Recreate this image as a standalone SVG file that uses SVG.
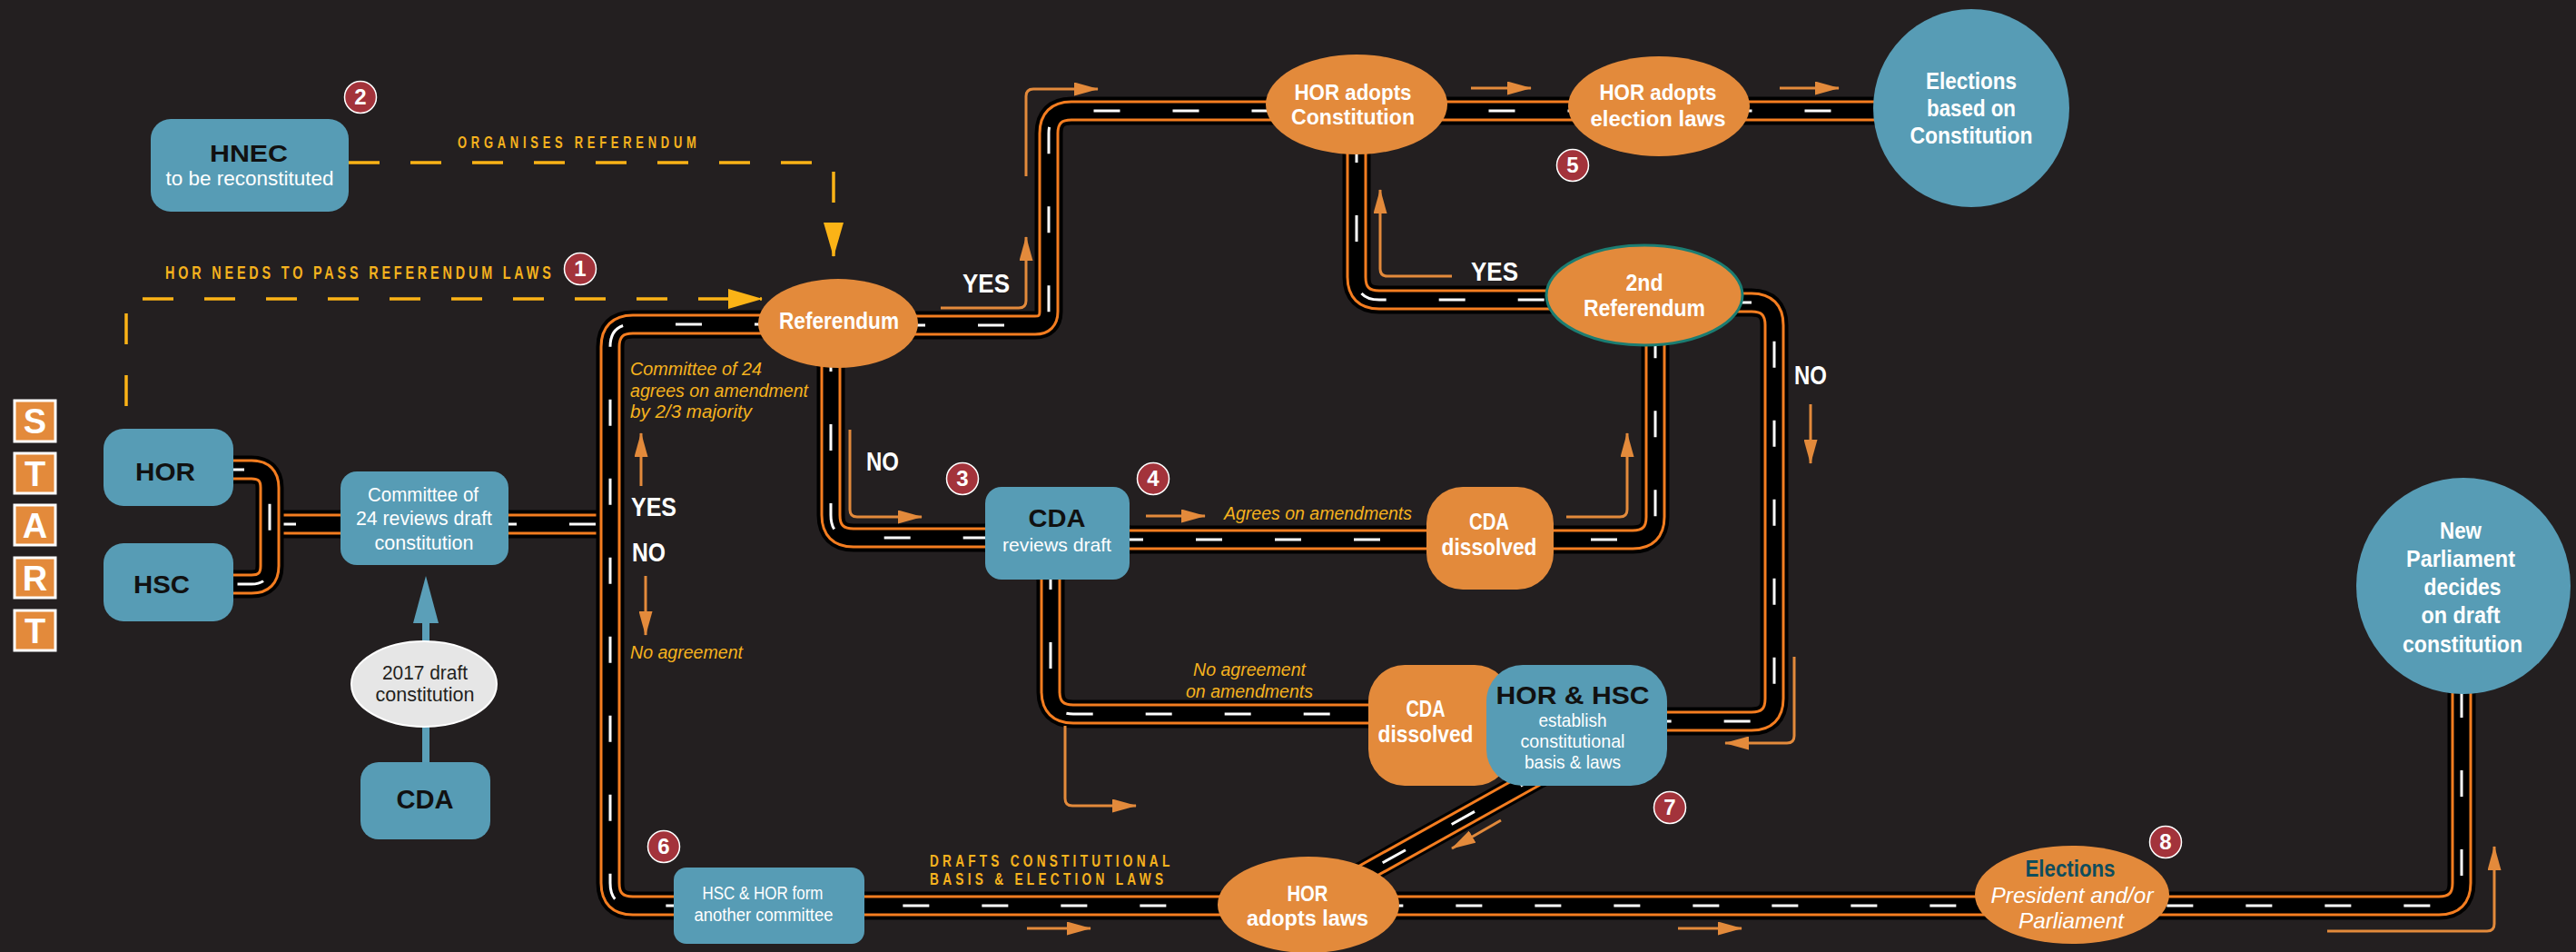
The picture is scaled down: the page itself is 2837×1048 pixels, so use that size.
<svg xmlns="http://www.w3.org/2000/svg" xmlns:xlink="http://www.w3.org/1999/xlink" width="2837" height="1048" viewBox="0 0 2837 1048">
<style>
text{font-family:'Liberation Sans Narrow','Liberation Sans',Arial,sans-serif}
.blue{fill:#579cb5}
.org{fill:#e38a3b}
.r1{fill:none;stroke:#000;stroke-width:31}
.r2{fill:none;stroke:#f47d20;stroke-width:23}
.r3{fill:none;stroke:#000;stroke-width:17}
.r4{fill:none;stroke:#fff;stroke-width:3;stroke-dasharray:29 58}
.d1{fill:none;stroke:#000;stroke-width:28}
.d2{fill:none;stroke:#f47d20;stroke-width:22}
.d3{fill:none;stroke:#000;stroke-width:16}
.ar{fill:none;stroke:#e38a3b;stroke-width:3;marker-end:url(#ah)}
.yd{fill:none;stroke:#fbb316;stroke-width:3.5;stroke-dasharray:34 34;marker-end:url(#ay)}
.tb{font-weight:bold;fill:#fff}
.tk{font-weight:bold;fill:#111}
.tw{fill:#fff}
.ty{font-style:italic;fill:#f5b21e}
.tc{font-weight:bold;fill:#f5b21e}
.bd circle{fill:#a3333b;stroke:#fff;stroke-width:1.5}
.bd text{font-weight:bold;fill:#fff;font-size:24px;text-anchor:middle}
.st rect{fill:#e38a3b;stroke:#fff;stroke-width:3}
.st text{font-weight:bold;fill:#fff;font-size:38px;text-anchor:middle}
</style>
<defs>
<marker id="ah" viewBox="0 0 27 15" refX="26" refY="7.5" markerWidth="27" markerHeight="15" markerUnits="userSpaceOnUse" orient="auto"><path d="M0,0 L27,7.5 L0,15 z" fill="#e38a3b"/></marker>
<marker id="ay" viewBox="0 0 38 22" refX="37" refY="11" markerWidth="38" markerHeight="22" markerUnits="userSpaceOnUse" orient="auto"><path d="M0,0 L38,11 L0,22 z" fill="#fbb316"/></marker>
<path id="p1" d="M240,517 H277 Q297,517 297,537 V623 Q297,643 277,643 H240"/>
<path id="p2" d="M297,577 H400"/>
<path id="p2b" d="M540,577 H672"/>
<path id="p3" d="M860,357 H697 Q672,357 672,382 V972 Q672,997 697,997 H2686 Q2711,997 2711,972 V740"/>
<path id="p4" d="M990,358 H1140 Q1155,358 1155,343 V147 Q1155,122 1180,122 H2100"/>
<path id="p5" d="M915,380 V567 Q915,592 940,592 H1100"/>
<path id="p6" d="M1230,594 H1798 Q1823,594 1823,569 V360"/>
<path id="p7" d="M1494,150 V305 Q1494,330 1519,330 H1720"/>
<path id="p8" d="M1900,333 H1929 Q1954,333 1954,358 V769 Q1954,794 1929,794 H1820"/>
<path id="p9" d="M1157,620 V761 Q1157,786 1182,786 H1530"/>
<path id="p10" d="M1700,851 L1490,968"/>
</defs>
<rect width="2837" height="1048" fill="#231f20"/>

<g id="connectors">
<g id="roads">
<use xlink:href="#p10" class="d1"/><use xlink:href="#p10" class="d2"/><use xlink:href="#p10" class="d3"/><use xlink:href="#p10" class="r4"/>
<use xlink:href="#p2" class="r1"/><use xlink:href="#p2" class="r2"/><use xlink:href="#p2" class="r3"/><use xlink:href="#p2" class="r4"/>
<use xlink:href="#p1" class="r1"/><use xlink:href="#p1" class="r2"/><use xlink:href="#p1" class="r3"/><use xlink:href="#p1" class="r4"/>
<use xlink:href="#p2b" class="r1"/><use xlink:href="#p2b" class="r2"/><use xlink:href="#p2b" class="r3"/><use xlink:href="#p2b" class="r4"/>
<use xlink:href="#p3" class="r1"/><use xlink:href="#p3" class="r2"/><use xlink:href="#p3" class="r3"/><use xlink:href="#p3" class="r4"/>
<use xlink:href="#p4" class="r1"/><use xlink:href="#p4" class="r2"/><use xlink:href="#p4" class="r3"/><use xlink:href="#p4" class="r4"/>
<use xlink:href="#p5" class="r1"/><use xlink:href="#p5" class="r2"/><use xlink:href="#p5" class="r3"/><use xlink:href="#p5" class="r4"/>
<use xlink:href="#p6" class="r1"/><use xlink:href="#p6" class="r2"/><use xlink:href="#p6" class="r3"/><use xlink:href="#p6" class="r4"/>
<use xlink:href="#p7" class="r1"/><use xlink:href="#p7" class="r2"/><use xlink:href="#p7" class="r3"/><use xlink:href="#p7" class="r4"/>
<use xlink:href="#p8" class="r1"/><use xlink:href="#p8" class="r2"/><use xlink:href="#p8" class="r3"/><use xlink:href="#p8" class="r4"/>
<use xlink:href="#p9" class="r1"/><use xlink:href="#p9" class="r2"/><use xlink:href="#p9" class="r3"/><use xlink:href="#p9" class="r4"/>
</g>
<g id="arrows">
<path class="ar" d="M706,535 V477"/>
<path class="ar" d="M711,634 V699"/>
<path class="ar" d="M936,473 V561 Q936,569 944,569 H1015"/>
<path class="ar" d="M1262,568 H1327"/>
<path class="ar" d="M1725,569 H1784 Q1792,569 1792,561 V477"/>
<path class="ar" d="M1036,339 H1122 Q1130,339 1130,331 V261"/>
<path class="ar" d="M1130,194 V106 Q1130,98 1138,98 H1209"/>
<path class="ar" d="M1620,97 H1686"/>
<path class="ar" d="M1960,97 H2025"/>
<path class="ar" d="M1599,304 H1528 Q1520,304 1520,296 V209"/>
<path class="ar" d="M1994,445 V510"/>
<path class="ar" d="M1976,723 V810 Q1976,818 1968,818 H1900"/>
<path class="ar" d="M1173,799 V879 Q1173,887 1181,887 H1251"/>
<path class="ar" d="M1653,903 L1599,934"/>
<path class="ar" d="M1131,1022 H1201"/>
<path class="ar" d="M1848,1022 H1918"/>
<path class="ar" d="M2563,1025 H2739 Q2747,1025 2747,1017 V932"/>
<path class="yd" d="M384,179 H918 V282"/>
<path class="yd" d="M139,447 V329 H839"/>
<line x1="469" y1="839" x2="469" y2="680" stroke="#5b9fb8" stroke-width="8"/>
<polygon points="455,686 483,686 469,634" fill="#5b9fb8"/>
</g>
<g id="connector-labels">
<text class="tc" transform="translate(504,163) scale(0.72,1)" font-size="18" textLength="365" lengthAdjust="spacing">ORGANISES REFERENDUM</text>
<text class="tc" transform="translate(182,307) scale(0.72,1)" font-size="20" textLength="590" lengthAdjust="spacing">HOR NEEDS TO PASS REFERENDUM LAWS</text>
<text class="ty" x="694" y="413" font-size="20" textLength="145" lengthAdjust="spacingAndGlyphs">Committee of 24</text>
<text class="ty" x="694" y="437" font-size="20" textLength="196" lengthAdjust="spacingAndGlyphs">agrees on amendment</text>
<text class="ty" x="694" y="460" font-size="20" textLength="134" lengthAdjust="spacingAndGlyphs">by 2/3 majority</text>
<text class="tb" x="695" y="568" font-size="30" textLength="50" lengthAdjust="spacingAndGlyphs">YES</text>
<text class="tb" x="696" y="618" font-size="30" textLength="37" lengthAdjust="spacingAndGlyphs">NO</text>
<text class="ty" x="694" y="725" font-size="20" textLength="124" lengthAdjust="spacingAndGlyphs">No agreement</text>
<text class="tb" x="1060" y="322" font-size="30" textLength="52" lengthAdjust="spacingAndGlyphs">YES</text>
<text class="tb" x="1620" y="309" font-size="30" textLength="52" lengthAdjust="spacingAndGlyphs">YES</text>
<text class="tb" x="954" y="518" font-size="30" textLength="36" lengthAdjust="spacingAndGlyphs">NO</text>
<text class="tb" x="1976" y="423" font-size="30" textLength="36" lengthAdjust="spacingAndGlyphs">NO</text>
<text class="ty" x="1348" y="572" font-size="20" textLength="207" lengthAdjust="spacingAndGlyphs">Agrees on amendments</text>
<text class="ty" x="1376" y="744" font-size="20" text-anchor="middle" textLength="124" lengthAdjust="spacingAndGlyphs">No agreement</text>
<text class="ty" x="1376" y="768" font-size="20" text-anchor="middle" textLength="140" lengthAdjust="spacingAndGlyphs">on amendments</text>
<text class="tc" transform="translate(1024,954) scale(0.72,1)" font-size="19" textLength="367" lengthAdjust="spacing">DRAFTS CONSTITUTIONAL</text>
<text class="tc" transform="translate(1024,974) scale(0.72,1)" font-size="19" textLength="357" lengthAdjust="spacing">BASIS &amp; ELECTION LAWS</text>
</g>
</g>

<g id="start" class="st">
<rect x="16" y="441" width="45" height="45"/><text x="38.5" y="477">S</text>
<rect x="16" y="499" width="45" height="44"/><text x="38.5" y="535">T</text>
<rect x="16" y="556" width="45" height="44"/><text x="38.5" y="592">A</text>
<rect x="16" y="614" width="45" height="44"/><text x="38.5" y="650">R</text>
<rect x="16" y="672" width="45" height="44"/><text x="38.5" y="708">T</text>
</g>

<g id="hnec">
<rect class="blue" x="166" y="131" width="218" height="102" rx="22"/>
<text class="tk" x="274" y="178" font-size="26" text-anchor="middle" textLength="86" lengthAdjust="spacingAndGlyphs">HNEC</text>
<text class="tw" x="275" y="204" font-size="22" text-anchor="middle" textLength="185" lengthAdjust="spacingAndGlyphs">to be reconstituted</text>
</g>
<g id="hor">
<rect class="blue" x="114" y="472" width="143" height="85" rx="22"/>
<text class="tk" x="182" y="529" font-size="28" text-anchor="middle" textLength="66" lengthAdjust="spacingAndGlyphs">HOR</text>
</g>
<g id="hsc">
<rect class="blue" x="114" y="598" width="143" height="86" rx="22"/>
<text class="tk" x="178" y="653" font-size="28" text-anchor="middle" textLength="62" lengthAdjust="spacingAndGlyphs">HSC</text>
</g>
<g id="committee24">
<rect class="blue" x="375" y="519" width="185" height="103" rx="18"/>
<text class="tw" x="466" y="552" font-size="22" text-anchor="middle" textLength="122" lengthAdjust="spacingAndGlyphs">Committee of</text>
<text class="tw" x="467" y="578" font-size="22" text-anchor="middle" textLength="150" lengthAdjust="spacingAndGlyphs">24 reviews draft</text>
<text class="tw" x="467" y="605" font-size="22" text-anchor="middle" textLength="109" lengthAdjust="spacingAndGlyphs">constitution</text>
</g>
<g id="draft2017">
<ellipse cx="467" cy="753" rx="80" ry="47" fill="#e6e6e6" stroke="#fff" stroke-width="2"/>
<text x="468" y="748" font-size="22" fill="#231f20" text-anchor="middle" textLength="94" lengthAdjust="spacingAndGlyphs">2017 draft</text>
<text x="468" y="772" font-size="22" fill="#231f20" text-anchor="middle" textLength="109" lengthAdjust="spacingAndGlyphs">constitution</text>
</g>
<g id="cda">
<rect class="blue" x="397" y="839" width="143" height="85" rx="20"/>
<text class="tk" x="468" y="890" font-size="29" text-anchor="middle" textLength="63" lengthAdjust="spacingAndGlyphs">CDA</text>
</g>
<g id="hsc-hor-committee">
<rect class="blue" x="742" y="955" width="210" height="84" rx="14"/>
<text class="tw" x="840" y="990" font-size="20" text-anchor="middle" textLength="133" lengthAdjust="spacingAndGlyphs">HSC &amp; HOR form</text>
<text class="tw" x="841" y="1014" font-size="20" text-anchor="middle" textLength="153" lengthAdjust="spacingAndGlyphs">another committee</text>
</g>
<g id="referendum">
<ellipse class="org" cx="923" cy="356" rx="88" ry="49"/>
<text class="tb" x="924" y="362" font-size="26" text-anchor="middle" textLength="132" lengthAdjust="spacingAndGlyphs">Referendum</text>
</g>
<g id="cda-reviews">
<rect class="blue" x="1085" y="536" width="159" height="102" rx="18"/>
<text class="tk" x="1164" y="580" font-size="28" text-anchor="middle" textLength="63" lengthAdjust="spacingAndGlyphs">CDA</text>
<text class="tw" x="1164" y="607" font-size="21" text-anchor="middle" textLength="120" lengthAdjust="spacingAndGlyphs">reviews draft</text>
</g>
<g id="cda-dissolved-1">
<rect class="org" x="1571" y="536" width="140" height="113" rx="40"/>
<text class="tb" x="1640" y="583" font-size="26" text-anchor="middle" textLength="44" lengthAdjust="spacingAndGlyphs">CDA</text>
<text class="tb" x="1640" y="611" font-size="26" text-anchor="middle" textLength="105" lengthAdjust="spacingAndGlyphs">dissolved</text>
</g>
<g id="cda-dissolved-2">
<rect class="org" x="1507" y="732" width="157" height="133" rx="40"/>
<text class="tb" x="1570" y="789" font-size="26" text-anchor="middle" textLength="43" lengthAdjust="spacingAndGlyphs">CDA</text>
<text class="tb" x="1570" y="817" font-size="26" text-anchor="middle" textLength="105" lengthAdjust="spacingAndGlyphs">dissolved</text>
</g>
<g id="hor-hsc">
<rect class="blue" x="1637" y="732" width="199" height="133" rx="40"/>
<text class="tk" x="1732" y="775" font-size="27" text-anchor="middle" textLength="169" lengthAdjust="spacingAndGlyphs">HOR &amp; HSC</text>
<text class="tw" x="1732" y="800" font-size="21" text-anchor="middle" textLength="75" lengthAdjust="spacingAndGlyphs">establish</text>
<text class="tw" x="1732" y="823" font-size="21" text-anchor="middle" textLength="115" lengthAdjust="spacingAndGlyphs">constitutional</text>
<text class="tw" x="1732" y="846" font-size="21" text-anchor="middle" textLength="106" lengthAdjust="spacingAndGlyphs">basis &amp; laws</text>
</g>
<g id="hor-adopts-constitution">
<ellipse class="org" cx="1494" cy="115" rx="100" ry="55"/>
<text class="tb" x="1490" y="110" font-size="24" text-anchor="middle" textLength="129" lengthAdjust="spacingAndGlyphs">HOR adopts</text>
<text class="tb" x="1490" y="137" font-size="24" text-anchor="middle" textLength="136" lengthAdjust="spacingAndGlyphs">Constitution</text>
</g>
<g id="hor-adopts-election-laws">
<ellipse class="org" cx="1827" cy="117" rx="100" ry="55"/>
<text class="tb" x="1826" y="110" font-size="24" text-anchor="middle" textLength="129" lengthAdjust="spacingAndGlyphs">HOR adopts</text>
<text class="tb" x="1826" y="139" font-size="24" text-anchor="middle" textLength="149" lengthAdjust="spacingAndGlyphs">election laws</text>
</g>
<g id="elections-constitution">
<ellipse class="blue" cx="2171" cy="119" rx="108" ry="109"/>
<text class="tb" x="2171" y="98" font-size="26" text-anchor="middle" textLength="100" lengthAdjust="spacingAndGlyphs">Elections</text>
<text class="tb" x="2171" y="128" font-size="26" text-anchor="middle" textLength="98" lengthAdjust="spacingAndGlyphs">based on</text>
<text class="tb" x="2171" y="158" font-size="26" text-anchor="middle" textLength="135" lengthAdjust="spacingAndGlyphs">Constitution</text>
</g>
<g id="second-referendum">
<ellipse class="org" cx="1811" cy="325" rx="108" ry="55" stroke="#1b7d72" stroke-width="3"/>
<text class="tb" x="1811" y="320" font-size="26" text-anchor="middle" textLength="41" lengthAdjust="spacingAndGlyphs">2nd</text>
<text class="tb" x="1811" y="348" font-size="26" text-anchor="middle" textLength="134" lengthAdjust="spacingAndGlyphs">Referendum</text>
</g>
<g id="hor-adopts-laws">
<ellipse class="org" cx="1441" cy="996" rx="100" ry="53"/>
<text class="tb" x="1440" y="992" font-size="23" text-anchor="middle" textLength="45" lengthAdjust="spacingAndGlyphs">HOR</text>
<text class="tb" x="1440" y="1019" font-size="23" text-anchor="middle" textLength="134" lengthAdjust="spacingAndGlyphs">adopts laws</text>
</g>
<g id="elections-president">
<ellipse class="org" cx="2282" cy="985" rx="107" ry="54"/>
<text x="2280" y="965" font-size="26" font-weight="bold" fill="#0f4d5c" text-anchor="middle" textLength="99" lengthAdjust="spacingAndGlyphs">Elections</text>
<text class="tw" x="2282" y="994" font-size="24" font-style="italic" text-anchor="middle" textLength="179" lengthAdjust="spacingAndGlyphs">President and/or</text>
<text class="tw" x="2281" y="1022" font-size="24" font-style="italic" text-anchor="middle" textLength="116" lengthAdjust="spacingAndGlyphs">Parliament</text>
</g>
<g id="new-parliament">
<ellipse class="blue" cx="2713" cy="645" rx="118" ry="119"/>
<text class="tb" x="2710" y="593" font-size="26" text-anchor="middle" textLength="46" lengthAdjust="spacingAndGlyphs">New</text>
<text class="tb" x="2710" y="624" font-size="26" text-anchor="middle" textLength="120" lengthAdjust="spacingAndGlyphs">Parliament</text>
<text class="tb" x="2712" y="655" font-size="26" text-anchor="middle" textLength="85" lengthAdjust="spacingAndGlyphs">decides</text>
<text class="tb" x="2710" y="686" font-size="26" text-anchor="middle" textLength="87" lengthAdjust="spacingAndGlyphs">on draft</text>
<text class="tb" x="2712" y="718" font-size="26" text-anchor="middle" textLength="132" lengthAdjust="spacingAndGlyphs">constitution</text>
</g>

<g id="badges" class="bd">
<g id="badge-1"><circle cx="639" cy="296" r="17.5"/><text x="639" y="304">1</text></g>
<g id="badge-2"><circle cx="397" cy="107" r="17.5"/><text x="397" y="115">2</text></g>
<g id="badge-3"><circle cx="1060" cy="527" r="17.5"/><text x="1060" y="535">3</text></g>
<g id="badge-4"><circle cx="1270" cy="527" r="17.5"/><text x="1270" y="535">4</text></g>
<g id="badge-5"><circle cx="1732" cy="182" r="17.5"/><text x="1732" y="190">5</text></g>
<g id="badge-6"><circle cx="731" cy="932" r="17.5"/><text x="731" y="940">6</text></g>
<g id="badge-7"><circle cx="1839" cy="889" r="17.5"/><text x="1839" y="897">7</text></g>
<g id="badge-8"><circle cx="2385" cy="927" r="17.5"/><text x="2385" y="935">8</text></g>
</g>
</svg>
